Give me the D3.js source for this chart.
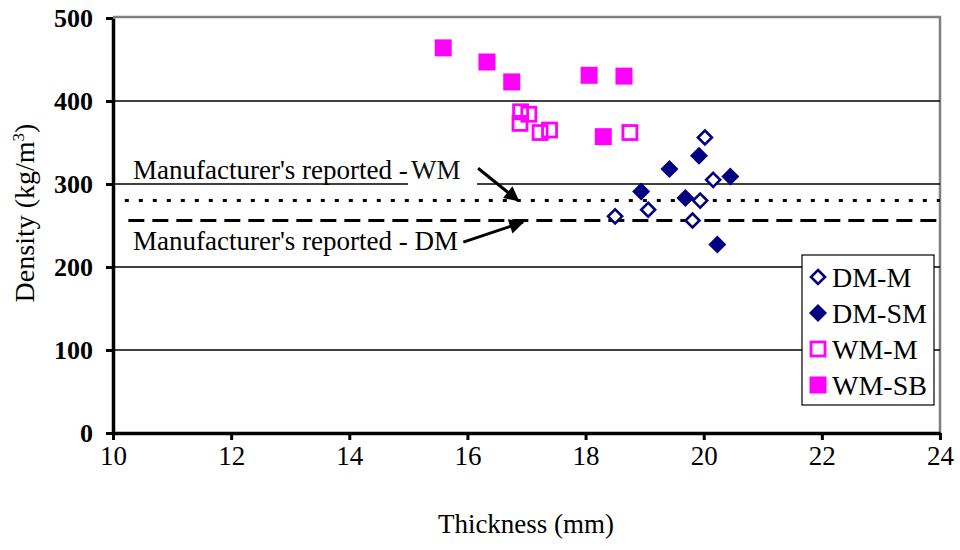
<!DOCTYPE html>
<html>
<head>
<meta charset="utf-8">
<script src="https://cdn.jsdelivr.net/npm/d3@7"></script>
<style>
  html, body { margin: 0; padding: 0; background: #fff; }
  svg { display: block; font-family: "Liberation Serif", "Times New Roman", serif; }
</style>
</head>
<body>
<svg id="chart" width="960" height="550"></svg>
<script>
// Measured board thickness (mm) and density (kg/m3) per sample group
const dmM_x  = [20.02, 20.16, 19.94, 18.50, 19.06, 19.81];
const dmM_y  = [356, 305, 280, 261, 269, 256];
const dmSM_x = [19.92, 19.42, 20.45, 18.94, 19.69, 20.23];
const dmSM_y = [334, 318, 309, 291, 283, 227];
const wmM_x  = [16.90, 17.04, 16.89, 17.23, 17.39, 18.75];
const wmM_y  = [387, 384, 373, 362, 365, 362];
const wmSB_x = [15.59, 16.33, 16.75, 18.06, 18.65, 18.30];
const wmSB_y = [464, 447, 423, 431, 430, 357];

// Manufacturer's reported densities
const reportedWM = 280;
const reportedDM = 256;

const xTicks = [10, 12, 14, 16, 18, 20, 22, 24];
const yTicks = [0, 100, 200, 300, 400, 500];
const gridValues = [100, 200, 300, 400];
const seriesNames = ["DM-M", "DM-SM", "WM-M", "WM-SB"];

const NAVY = "#000080", MAGENTA = "#ff00ff";

const svg = d3.select("#chart");
const plotL = 113, plotR = 940, plotT = 18, plotB = 433;

const x = d3.scaleLinear().domain([10, 24]).range([plotL, plotR]);
const y = d3.scaleLinear().domain([0, 500]).range([plotB, plotT]);

// Plot-area border (top and right edges)
svg.append("path")
  .attr("d", `M${plotL},${plotT - 1}H${plotR}V${plotB}`)
  .attr("fill", "none").attr("stroke", "#808080").attr("stroke-width", 2.5);

// Horizontal gridlines
svg.append("g").selectAll("line").data(gridValues).join("line")
  .attr("x1", plotL).attr("x2", plotR)
  .attr("y1", d => y(d)).attr("y2", d => y(d))
  .attr("stroke", "#000").attr("stroke-width", 1.6);

// Reported density reference lines
svg.append("line")
  .attr("x1", x(10.2)).attr("x2", x(24))
  .attr("y1", y(reportedWM)).attr("y2", y(reportedWM))
  .attr("stroke", "#000").attr("stroke-width", 3).attr("stroke-dasharray", "4,10");
svg.append("line")
  .attr("x1", x(10.26)).attr("x2", x(24))
  .attr("y1", y(reportedDM)).attr("y2", y(reportedDM))
  .attr("stroke", "#000").attr("stroke-width", 3).attr("stroke-dasharray", "16,8");

// Axes
const xAxis = d3.axisBottom(x).tickValues(xTicks).tickSize(7).tickSizeOuter(0).tickPadding(6);
const yAxis = d3.axisLeft(y).tickValues(yTicks).tickSize(7).tickSizeOuter(0).tickPadding(13);

const gx = svg.append("g").attr("transform", `translate(0,${plotB})`).call(xAxis);
const gy = svg.append("g").attr("transform", `translate(${plotL},0)`).call(yAxis);

[gx, gy].forEach(g => {
  g.select(".domain").attr("stroke", "#000").attr("stroke-width", 3.5);
  g.selectAll(".tick line").attr("stroke", "#000").attr("stroke-width", 3);
  g.selectAll(".tick text").attr("fill", "#000")
    .style("font-family", "'Liberation Serif', 'Times New Roman', serif");
});
gx.selectAll(".tick text").style("font-size", "27px");
gy.selectAll(".tick text").style("font-size", "26px").style("font-weight", "bold");

// Axis titles
svg.append("text")
  .attr("x", 526).attr("y", 533).attr("text-anchor", "middle")
  .style("font-size", "27px").text("Thickness (mm)");

const yt = svg.append("text")
  .attr("transform", "translate(34,213) rotate(-90)")
  .attr("text-anchor", "middle").style("font-size", "28px");
yt.append("tspan").text("Density (kg/m");
yt.append("tspan").attr("dy", -10).style("font-size", "17px").text("3");
yt.append("tspan").attr("dy", 10).text(")");

// Marker shapes
const diamond = r => `M0,${-r}L${r},0L0,${r}L${-r},0Z`;
const markers = {
  "DM-M":  g => g.append("path").attr("d", diamond(7)).attr("fill", "#fff").attr("stroke", NAVY).attr("stroke-width", 2.6),
  "DM-SM": g => g.append("path").attr("d", diamond(9)).attr("fill", NAVY),
  "WM-M":  g => g.append("rect").attr("x", -7).attr("y", -7).attr("width", 14).attr("height", 14)
                   .attr("fill", "none").attr("stroke", MAGENTA).attr("stroke-width", 2.8),
  "WM-SB": g => g.append("rect").attr("x", -8.5).attr("y", -8.5).attr("width", 17).attr("height", 17).attr("fill", MAGENTA)
};

const series = [
  { name: "DM-M",  xs: dmM_x,  ys: dmM_y },
  { name: "DM-SM", xs: dmSM_x, ys: dmSM_y },
  { name: "WM-M",  xs: wmM_x,  ys: wmM_y },
  { name: "WM-SB", xs: wmSB_x, ys: wmSB_y }
];

// Annotation text and arrows
svg.append("text").attr("x", x(10.34)).attr("y", y(306))
  .style("font-size", "27px").text("Manufacturer's reported -");
svg.append("rect").attr("x", 408).attr("y", 158).attr("width", 69).attr("height", 34).attr("fill", "#fff");
svg.append("text").attr("x", 411).attr("y", y(306))
  .style("font-size", "27px").attr("fill", "#111").text("WM");
svg.append("text").attr("x", x(10.34)).attr("y", y(220.5))
  .style("font-size", "27px").text("Manufacturer's reported - DM");

svg.append("defs").append("marker")
  .attr("id", "head").attr("viewBox", "0 0 10 10").attr("refX", 9).attr("refY", 5)
  .attr("markerWidth", 6).attr("markerHeight", 5).attr("markerUnits", "strokeWidth")
  .attr("orient", "auto")
  .append("path").attr("d", "M0,0L10,5L0,10Z").attr("fill", "#000");

const arrows = [
  { from: [16.18, 319], to: [16.86, 280] },
  { from: [15.93, 230], to: [16.94, 254] }
];
svg.append("g").selectAll("line").data(arrows).join("line")
  .attr("x1", d => x(d.from[0])).attr("y1", d => y(d.from[1]))
  .attr("x2", d => x(d.to[0])).attr("y2", d => y(d.to[1]))
  .attr("stroke", "#000").attr("stroke-width", 3).attr("marker-end", "url(#head)");

// Data points
series.forEach(s => {
  const g = svg.append("g");
  s.xs.forEach((xv, i) => {
    const p = g.append("g").attr("transform", `translate(${x(xv)},${y(s.ys[i])})`);
    markers[s.name](p);
  });
});

// Legend
const lg = svg.append("g").attr("transform", "translate(802,255)");
lg.append("rect").attr("width", 132).attr("height", 150)
  .attr("fill", "#fff").attr("stroke", "#000").attr("stroke-width", 1.2);
seriesNames.forEach((name, i) => {
  const row = lg.append("g").attr("transform", `translate(0,${22 + i * 36})`);
  markers[name](row.append("g").attr("transform", "translate(16,0)"));
  row.append("text").attr("x", 30).attr("y", 10).style("font-size", "28px").text(name);
});
</script>
</body>
</html>
